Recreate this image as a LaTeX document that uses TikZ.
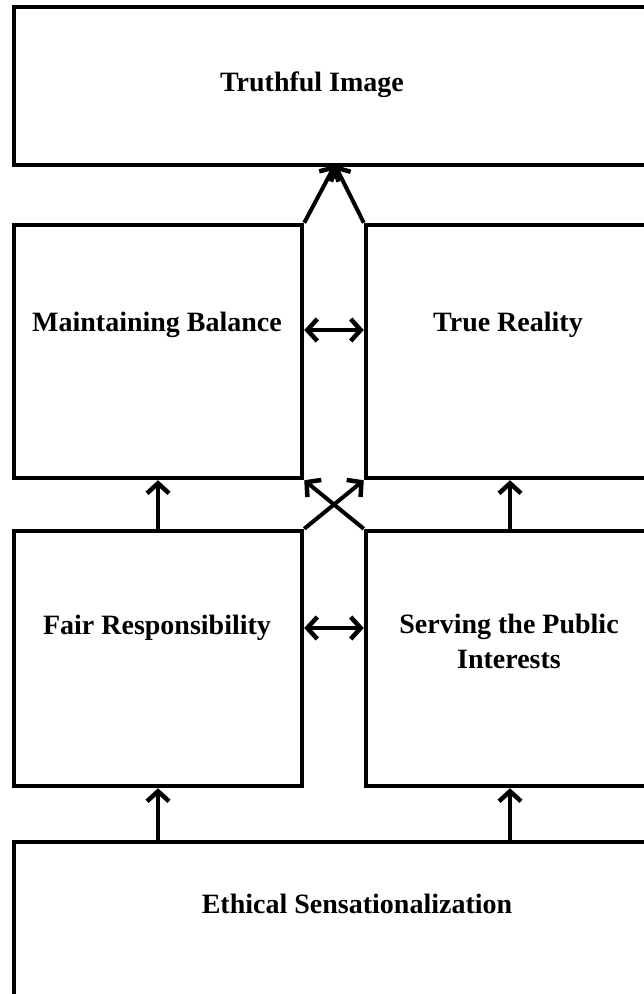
\documentclass[tikz,border=0pt]{standalone}
\usepackage{fontspec}
\setmainfont{Liberation Serif}
\usepackage{tikz}
\usetikzlibrary{positioning}
\usetikzlibrary{arrows.meta, calc}

\tikzset{
    block/.style={draw, line width=4.5pt, inner sep=0pt, minimum height=#1},
    block/.default=253pt,
    lbl/.style={font=\fontsize{28}{35}\selectfont\bfseries, inner sep=0pt, anchor=base, align=center},
    link/.style={line width=4pt, -{Straight Barb[length=10pt,width=22pt,line width=4.5pt]}},
    twoway/.style={line width=4pt, {Straight Barb[length=10pt,width=22pt,line width=4.5pt]}-{Straight Barb[length=10pt,width=22pt,line width=4.5pt]}}
}

\begin{document}
\begin{tikzpicture}[x=1pt, y=-1pt]
        \useasboundingbox (0,0) rectangle (644,994);
        \clip (0,0) rectangle (644,994);

        % boxes
        \node[block=158pt, minimum width=636pt] (ti) at (332,86) {};
        \node[block, minimum width=288pt] (mb) at (158,351.5) {};
        \node[block, minimum width=288pt] (tr) at (510,351.5) {};
        \node[block=255pt, minimum width=288pt] (fr) at (158,658.5) {};
        \node[block=255pt, minimum width=288pt] (sp) at (510,658.5) {};
        \node[block=160pt, minimum width=636pt] (es) at (332,922) {};

        % texts
        \node[lbl] (titext) at (312,91) {Truthful Image};
        \node[lbl] (mbtext) at (157,331) {Maintaining Balance};
        \node[lbl] (trtext) at (508,331) {True Reality};
        \node[lbl] (frtext) at (157,634) {Fair Responsibility};
        \node[lbl] (sptext) at (509,668) {Serving the Public\\Interests};
        \node[lbl] (estext) at (357,913) {Ethical Sensationalization};

        % connectors
        \coordinate (top) at (335,165);
        \draw[link] (mb.north east) -- (top);
        \draw[link] (tr.north west) -- (top);
        \draw[twoway] (mb.east |- 0,330) -- (tr.west |- 0,330);
        \draw[twoway] (fr.east |- 0,628) -- (sp.west |- 0,628);
        \draw[link] (fr.north) -- (mb.south);
        \draw[link] (sp.north) -- (tr.south);
        \draw[link] (fr.north east) -- (tr.south west);
        \draw[link] (sp.north west) -- (mb.south east);
        \draw[link] (fr.south |- es.north) -- (fr.south);
        \draw[link] (sp.south |- es.north) -- (sp.south);
    \end{tikzpicture}
\end{document}
